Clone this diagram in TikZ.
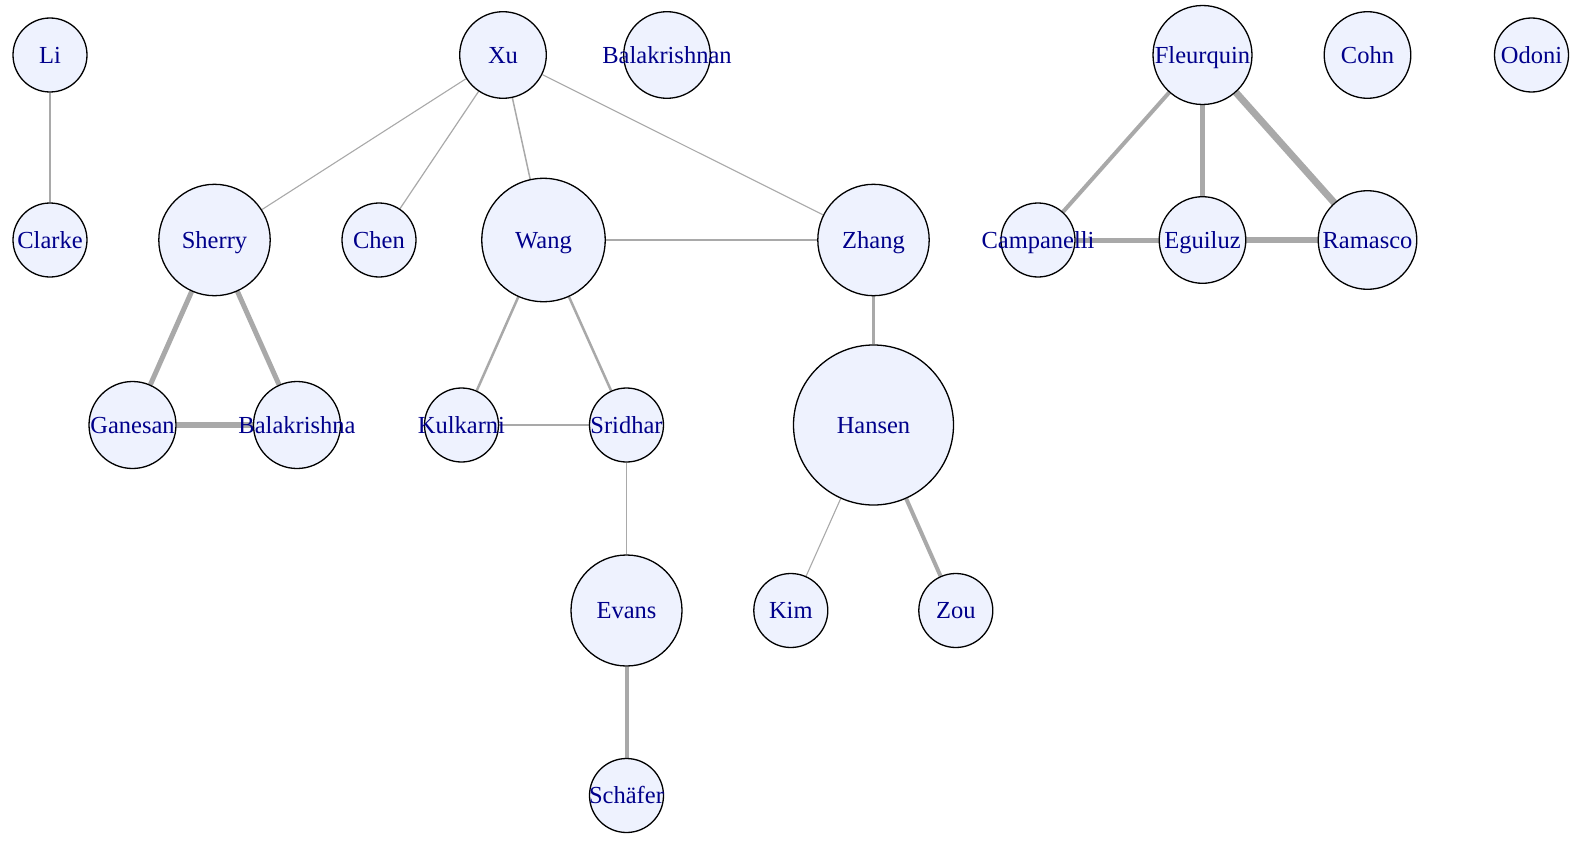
\documentclass[tikz,border=0pt]{standalone}
\usepackage{fontspec}
\setmainfont{Liberation Serif}
\usetikzlibrary{backgrounds}
\definecolor{nodefill}{HTML}{EEF2FE}
\definecolor{lblcol}{HTML}{00008B}
\definecolor{edgecol}{HTML}{A9A9A9}
\tikzset{
  vtx/.style={circle, draw=black, line width=1.3pt, fill=nodefill, inner sep=0pt, minimum size=#1},
  lbl/.style={text=lblcol, font=\fontsize{24.5pt}{26pt}\selectfont, inner sep=0pt, text height=16.2pt, text depth=0pt},
  edge/.style={draw=edgecol, line width=#1}
}
\begin{document}
\begin{tikzpicture}[x=1pt,y=-1pt]
\useasboundingbox (0,0) rectangle (1583,851);
% vertices
\node[vtx=74pt]  (li)    at (50,55) {};
\node[vtx=74pt]  (clarke) at (50,240) {};
\node[vtx=86.6pt] (xu)   at (503,55) {};
\node[vtx=86.6pt] (balan) at (667,55) {};
\node[vtx=111.4pt] (sherry) at (214.5,240) {};
\node[vtx=74pt]  (chen)  at (379,240) {};
\node[vtx=123.4pt] (wang) at (543.5,240) {};
\node[vtx=111.4pt] (zhang) at (873.5,240) {};
\node[vtx=74pt]  (camp)  at (1038,240) {};
\node[vtx=99pt]  (fleur) at (1202.5,55) {};
\node[vtx=86.6pt] (cohn) at (1367.5,55) {};
\node[vtx=74pt]  (odoni) at (1531.5,55) {};
\node[vtx=86.6pt] (egu)  at (1202.5,240) {};
\node[vtx=98.6pt] (rama) at (1367.5,240) {};
\node[vtx=87pt]  (gane)  at (132.5,425) {};
\node[vtx=87pt]  (bala)  at (297,425) {};
\node[vtx=74pt]  (kulk)  at (461.5,425) {};
\node[vtx=74pt]  (srid)  at (626.5,425) {};
\node[vtx=160pt] (hansen) at (873.5,425) {};
\node[vtx=111pt] (evans) at (626.5,610.5) {};
\node[vtx=74pt]  (kim)   at (790.8,610.5) {};
\node[vtx=74pt]  (zou)   at (955.8,610.5) {};
\node[vtx=74pt]  (schaf) at (626.5,795.5) {};
% labels
\node[lbl] (li-t) at (li) {Li};
\node[lbl] (clarke-t) at (clarke) {Clarke};
\node[lbl] (xu-t) at (xu) {Xu};
\node[lbl] (balan-t) at (balan) {Balakrishnan};
\node[lbl] (sherry-t) at (sherry) {Sherry};
\node[lbl] (chen-t) at (chen) {Chen};
\node[lbl] (wang-t) at (wang) {Wang};
\node[lbl] (zhang-t) at (zhang) {Zhang};
\node[lbl] (camp-t) at (camp) {Campanelli};
\node[lbl] (fleur-t) at (fleur) {Fleurquin};
\node[lbl] (cohn-t) at (cohn) {Cohn};
\node[lbl] (odoni-t) at (odoni) {Odoni};
\node[lbl] (egu-t) at (egu) {Eguiluz};
\node[lbl] (rama-t) at (rama) {Ramasco};
\node[lbl] (gane-t) at (gane) {Ganesan};
\node[lbl] (bala-t) at (bala) {Balakrishna};
\node[lbl] (kulk-t) at (kulk) {Kulkarni};
\node[lbl] (srid-t) at (srid) {Sridhar};
\node[lbl] (hansen-t) at (hansen) {Hansen};
\node[lbl] (evans-t) at (evans) {Evans};
\node[lbl] (kim-t) at (kim) {Kim};
\node[lbl] (zou-t) at (zou) {Zou};
\node[lbl] (schaf-t) at (schaf) {Schäfer};
% edges
\begin{pgfonlayer}{background}
\draw[edge=1.8pt] (li) -- (clarke);
\draw[edge=1.1pt] (xu) -- (sherry);
\draw[edge=1.2pt] (xu) -- (chen);
\draw[edge=1.5pt] (xu) -- (wang);
\draw[edge=1.1pt] (xu) -- (zhang);
\draw[edge=1.7pt] (wang) -- (zhang);
\draw[edge=2.5pt] (wang) -- (kulk);
\draw[edge=2.5pt] (wang) -- (srid);
\draw[edge=2.5pt] (kulk) -- (srid);
\draw[edge=1.3pt] (srid) -- (evans);
\draw[edge=4pt] (evans) -- (schaf);
\draw[edge=2.5pt] (zhang) -- (hansen);
\draw[edge=1.1pt] (hansen) -- (kim);
\draw[edge=4pt] (hansen) -- (zou);
\draw[edge=5pt] (sherry) -- (gane);
\draw[edge=5pt] (sherry) -- (bala);
\draw[edge=5.5pt] (gane) -- (bala);
\draw[edge=4pt] (fleur) -- (camp);
\draw[edge=5pt] (fleur) -- (egu);
\draw[edge=7pt] (fleur) -- (rama);
\draw[edge=5pt] (camp) -- (egu);
\draw[edge=6pt] (egu) -- (rama);
\end{pgfonlayer}
\end{tikzpicture}
\end{document}
